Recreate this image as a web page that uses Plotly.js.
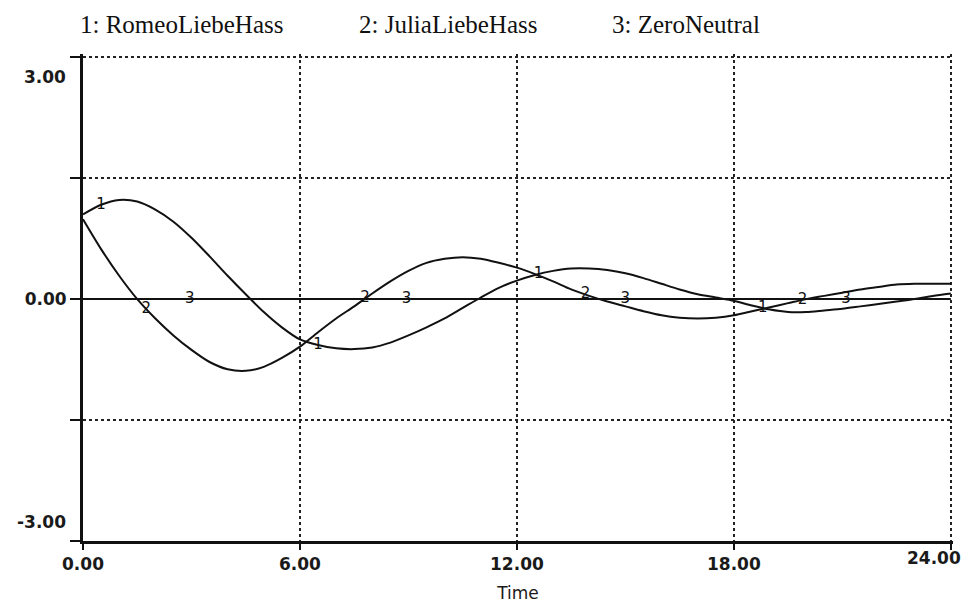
<!DOCTYPE html>
<html>
<head>
<meta charset="utf-8">
<script src="https://cdn.plot.ly/plotly-3.0.1.min.js"></script>
<style>html,body{margin:0;padding:0;background:#fff;}#chart{width:967px;height:607px;}</style>
</head>
<body>
<div id="chart"></div>
<script>
// ---- data ----
var seriesNames = ["1: RomeoLiebeHass", "2: JuliaLiebeHass", "3: ZeroNeutral"];
var markerDigits = ["1", "2", "3"];
var time = [0,0.5,1,1.5,2,2.5,3,3.5,4,4.5,5,5.5,6,6.5,7,7.5,8,8.5,9,9.5,10,10.5,11,11.5,12,12.5,13,13.5,14,14.5,15,15.5,16,16.5,17,17.5,18,18.5,19,19.5,20,20.5,21,21.5,22,22.5,23,23.5,24];
var romeo = [1.05,1.17,1.23,1.21,1.11,0.96,0.76,0.53,0.29,0.06,-0.16,-0.35,-0.50,-0.57,-0.61,-0.62,-0.60,-0.54,-0.45,-0.35,-0.24,-0.11,0.02,0.14,0.23,0.30,0.35,0.38,0.38,0.36,0.32,0.26,0.19,0.12,0.06,0.02,-0.02,-0.08,-0.13,-0.16,-0.16,-0.14,-0.12,-0.09,-0.06,-0.03,0.00,0.04,0.07];
var julia = [0.99,0.62,0.29,0.00,-0.24,-0.45,-0.63,-0.78,-0.87,-0.89,-0.84,-0.73,-0.59,-0.41,-0.24,-0.09,0.07,0.22,0.35,0.45,0.50,0.52,0.50,0.45,0.39,0.31,0.22,0.12,0.04,-0.03,-0.09,-0.15,-0.20,-0.23,-0.24,-0.23,-0.20,-0.15,-0.10,-0.05,0.00,0.04,0.08,0.12,0.15,0.18,0.19,0.19,0.19];
var zero = [0,0,0,0,0,0,0,0,0,0,0,0,0,0,0,0,0,0,0,0,0,0,0,0,0,0,0,0,0,0,0,0,0,0,0,0,0,0,0,0,0,0,0,0,0,0,0,0,0];
var labelTimes1 = [0.5, 6.5, 12.6, 18.8];
var labelTimes2 = [1.75, 7.8, 13.9, 19.9];
var labelTimes3 = [2.95, 8.95, 15.0, 21.1];
var xTickVals = [0, 6, 12, 18, 24];
var xTickText = ["0.00", "6.00", "12.00", "18.00", ""];
var xEdgeLabel = {v: 24, t: "24.00"};
var yTickVals = [-3, -1.5, 0, 1.5, 3];
var yTickText = ["", "", "0.00", "", ""];
var yEdgeLabels = [{v: 3, t: "3.00"}, {v: -3, t: "-3.00"}];
var xTitle = "Time";

function interp(xs, ys, x) {
  for (var i = 0; i < xs.length - 1; i++) {
    if (x >= xs[i] && x <= xs[i+1]) {
      var f = (x - xs[i]) / (xs[i+1] - xs[i]);
      return ys[i] + f * (ys[i+1] - ys[i]);
    }
  }
  return ys[ys.length-1];
}

var tickFont = {family: "DejaVu Sans", size: 17, color: "#1a1a1a", weight: "bold"};
var allSeries = [romeo, julia, zero];
var allLabelTimes = [labelTimes1, labelTimes2, labelTimes3];
var traces = [];
allSeries.forEach(function (s, i) {
  traces.push({
    x: time, y: s, type: "scatter", mode: "lines",
    line: {color: "#111", width: 2, shape: i < 2 ? "spline" : "linear", smoothing: 0.8},
    name: seriesNames[i], showlegend: false, hoverinfo: "skip"
  });
});
allSeries.forEach(function (s, i) {
  var lt = allLabelTimes[i];
  traces.push({
    x: lt, y: lt.map(function (t) { return interp(time, s, t); }),
    type: "scatter", mode: "text",
    text: lt.map(function () { return markerDigits[i]; }),
    textposition: "middle center",
    textfont: {family: "DejaVu Sans", size: 15, color: "#111"},
    showlegend: false, hoverinfo: "skip"
  });
});

var annotations = [];
var legendX = [78, 357, 610];
var plotL = 83, plotW = 870;
seriesNames.forEach(function (n, i) {
  annotations.push({
    text: n, xref: "paper", yref: "paper",
    x: (legendX[i] - plotL) / plotW, y: 1, yshift: 30,
    xanchor: "left", yanchor: "middle", showarrow: false,
    font: {family: "Liberation Serif", size: 25, color: "#111"}
  });
});
yEdgeLabels.forEach(function (d) {
  annotations.push({
    text: d.t, xref: "paper", yref: "y", x: 0, y: d.v,
    xshift: -15, yshift: d.v > 0 ? -20 : 19,
    xanchor: "right", yanchor: "middle", showarrow: false,
    font: tickFont
  });
});
annotations.push({
  text: xEdgeLabel.t, xref: "x", yref: "paper", x: xEdgeLabel.v, y: 0,
  xshift: 12, yshift: -17,
  xanchor: "right", yanchor: "middle", showarrow: false,
  font: tickFont
});

var layout = {
  width: 967, height: 607,
  margin: {l: plotL, r: 967 - plotL - plotW, t: 54, b: 66},
  paper_bgcolor: "#fff", plot_bgcolor: "#fff",
  showlegend: false,
  xaxis: {
    range: [0, 24.06], tickvals: xTickVals, ticktext: xTickText,
    ticks: "outside", ticklen: 6, tickwidth: 2, tickcolor: "#111",
    showline: true, linecolor: "#111", linewidth: 3,
    showgrid: true, gridcolor: "#222", gridwidth: 1.5, griddash: "3px,3px",
    zeroline: false, ticklabeloverflow: "allow",
    tickfont: tickFont,
    title: {text: xTitle, font: {family: "DejaVu Sans", size: 17, color: "#1a1a1a"}, standoff: 14}
  },
  yaxis: {
    range: [-3, 3.04], tickvals: yTickVals, ticktext: yTickText,
    ticks: "outside", ticklen: 10, tickwidth: 2, tickcolor: "#111",
    showline: true, linecolor: "#111", linewidth: 3,
    showgrid: true, gridcolor: "#222", gridwidth: 1.5, griddash: "3px,3px",
    zeroline: false,
    tickfont: tickFont
  },
  annotations: annotations
};

Plotly.newPlot("chart", traces, layout, {staticPlot: true, displayModeBar: false});
</script>
</body>
</html>
